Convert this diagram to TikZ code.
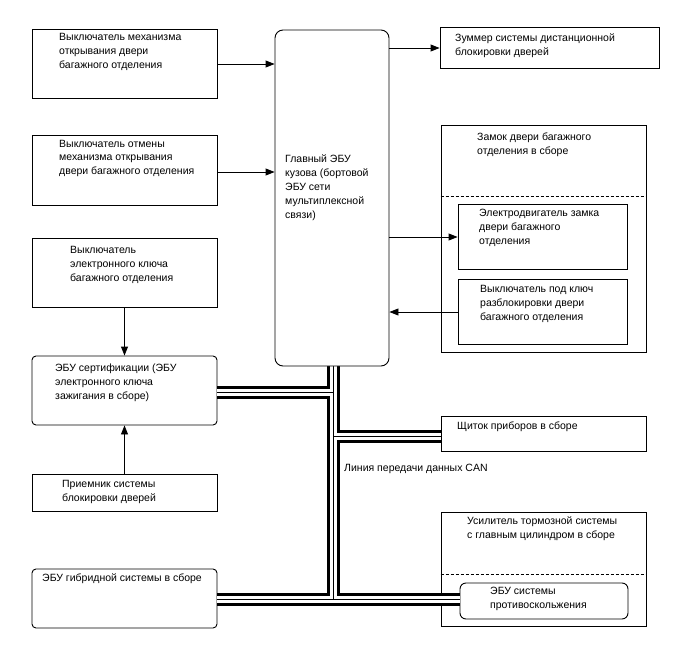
\documentclass[tikz,border=0pt]{standalone}
\usepackage{fontspec}
\setmainfont{Liberation Sans}
\usetikzlibrary{arrows.meta}
\begin{document}
\begin{tikzpicture}[x=1pt,y=-1pt,
  box/.style={draw=black,line width=0.9pt,rectangle,inner sep=0pt},
  rbox/.style={box,rounded corners=4pt},
  lbl/.style={anchor=base west,inner sep=0pt,align=left,font=\fontsize{10.5}{14}\selectfont},
  arr/.style={line width=0.9pt,-{Triangle[length=9pt,width=7pt]}},
  busout/.style={line width=13pt,black},
  busin/.style={line width=7pt,white},
  busmid/.style={line width=0.7pt,black},
  dashsep/.style={line width=0.9pt,dash pattern=on 3pt off 2pt}]
\useasboundingbox (0,0) rectangle (688,658);
\fill[white] (0,0) rectangle (688,658);
% groups
\node[box,minimum width=205pt,minimum height=227pt] (lockgrp) at (543.5,238.5) {};
\node[box,minimum width=205pt,minimum height=114pt] (brkgrp) at (543.5,569) {};
\draw[dashsep] (lockgrp.west |- 0,196) -- (lockgrp.east |- 0,196);
\draw[dashsep] (brkgrp.west |- 0,574) -- (brkgrp.east |- 0,574);
% nodes
\node[box,minimum width=185pt,minimum height=69pt] (swopen) at (124.5,63.5) {};
\node[box,minimum width=185pt,minimum height=70pt] (swcancel) at (124.5,170) {};
\node[box,minimum width=185pt,minimum height=69pt] (swkey) at (124.5,272.5) {};
\node[rbox,minimum width=185pt,minimum height=69pt] (cert) at (124.5,390.5) {};
\node[box,minimum width=185pt,minimum height=37pt] (recv) at (124.5,492.5) {};
\node[rbox,minimum width=185pt,minimum height=59pt] (hyb) at (124.5,598.5) {};
\node[box,minimum width=219pt,minimum height=41pt] (buzz) at (549.5,47.5) {};
\node[box,minimum width=169pt,minimum height=65pt] (motor) at (542.5,236.5) {};
\node[box,minimum width=169pt,minimum height=65pt] (keysw) at (542.5,311.5) {};
\node[box,minimum width=205pt,minimum height=35pt] (meter) at (543.5,433.5) {};
\node[box,rounded corners=6pt,minimum width=168pt,minimum height=36pt] (abs) at (544,601) {};
% CAN bus
\coordinate (jcert) at (333,392);
\coordinate (jmeter) at (333,436);
\coordinate (jbot) at (333,599);
\foreach \s in {busout,busin,busmid}{
  \draw[\s] (333,366) -- (jbot);
  \draw[\s] (cert.east |- jcert) -- (jcert);
  \draw[\s] (jmeter) -- (meter.west |- jmeter);
  \draw[\s] (hyb.east |- jbot) -- (abs.west |- jbot);
}
\node[box,rounded corners=8pt,fill=white,minimum width=114pt,minimum height=336pt] (ecu) at (332,198) {};
% connectors
\draw[arr] (swopen.east |- 0,64) -- (ecu.west |- 0,64);
\draw[arr] (swcancel.east |- 0,172) -- (ecu.west |- 0,172);
\draw[arr] (ecu.east |- 0,48) -- (buzz.west |- 0,48);
\draw[arr] (ecu.east |- 0,237) -- (motor.west |- 0,237);
\draw[arr] (keysw.west |- 0,312) -- (ecu.east |- 0,312);
\draw[arr] (swkey.south) -- (cert.north);
\draw[arr] (recv.north) -- (cert.south);
% labels (base = baseline of last line)
\node[lbl] (tswopen) at (59,69) {Выключатель механизма\\открывания двери\\багажного отделения};
\node[lbl] (tswcancel) at (59,175) {Выключатель отмены\\механизма открывания\\двери багажного отделения};
\node[lbl] (tswkey) at (70,281) {Выключатель\\электронного ключа\\багажного отделения};
\node[lbl] (tcert) at (55,399) {ЭБУ сертификации (ЭБУ\\электронного ключа\\зажигания в сборе)};
\node[lbl] (trecv) at (62,501) {Приемник системы\\блокировки дверей};
\node[lbl] (thyb) at (42,581) {ЭБУ гибридной системы в сборе};
\node[lbl] (tecu) at (285,218) {Главный ЭБУ\\кузова (бортовой\\ЭБУ сети\\мультиплексной\\связи)};
\node[lbl] (tbuzz) at (455,56) {Зуммер системы дистанционной\\блокировки дверей};
\node[lbl] (tlock) at (477,155) {Замок двери багажного\\отделения в сборе};
\node[lbl] (tmotor) at (479,244) {Электродвигатель замка\\двери багажного\\отделения};
\node[lbl] (tkeysw) at (480,320) {Выключатель под ключ\\разблокировки двери\\багажного отделения};
\node[lbl] (tmeter) at (457,429) {Щиток приборов в сборе};
\node[lbl] (tcan) at (344,471) {Линия передачи данных CAN};
\node[lbl] (tbrk) at (467,538) {Усилитель тормозной системы\\с главным цилиндром в сборе};
\node[lbl] (tabs) at (490,608) {ЭБУ системы\\противоскольжения};
\end{tikzpicture}
\end{document}
